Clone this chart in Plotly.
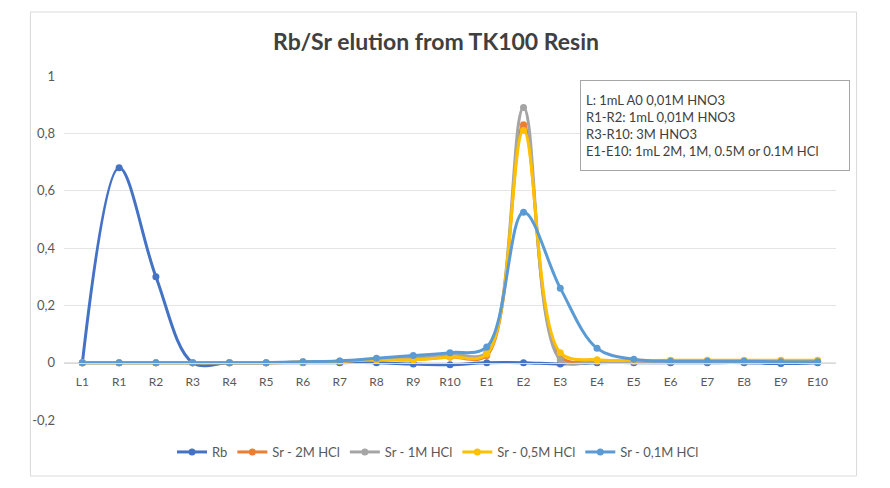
import plotly.graph_objects as go

categories = ["L1", "R1", "R2", "R3", "R4", "R5", "R6", "R7", "R8", "R9", "R10",
              "E1", "E2", "E3", "E4", "E5", "E6", "E7", "E8", "E9", "E10"]

rb = [0, 0.68, 0.30, 0, 0, 0, 0, 0, 0, -0.005, -0.007,
      0, 0, -0.005, 0, 0, 0, 0, 0, -0.003, 0]
sr_2m = [0, 0, 0, 0, 0, 0, 0.002, 0.005, 0.01, 0.01, 0.02,
         0.025, 0.83, 0.02, 0.005, 0.005, 0.005, 0.005, 0.005, 0.005, 0.005]
sr_1m = [0, 0, 0, 0, 0, 0, 0.002, 0.005, 0.01, 0.015, 0.03,
         0.035, 0.89, 0.01, 0.005, 0.003, 0.003, 0.003, 0.003, 0.003, 0.003]
sr_05m = [0, 0, 0, 0, 0, 0, 0.002, 0.005, 0.01, 0.01, 0.02,
          0.03, 0.81, 0.035, 0.01, 0.008, 0.008, 0.008, 0.008, 0.008, 0.008]
sr_01m = [0, 0, 0, 0, 0, 0, 0.003, 0.006, 0.015, 0.025, 0.035,
          0.055, 0.525, 0.26, 0.05, 0.012, 0.005, 0.005, 0.005, 0.003, 0.003]

series_names = ["Rb", "Sr - 2M HCl", "Sr - 1M HCl", "Sr - 0,5M HCl", "Sr - 0,1M HCl"]
series_values = [rb, sr_2m, sr_1m, sr_05m, sr_01m]
series_colors = ["#4472C4", "#ED7D31", "#A5A5A5", "#FFC000", "#5B9BD5"]

y_tickvals = [-0.2, 0, 0.2, 0.4, 0.6, 0.8, 1]
y_ticktext = ["-0,2", "0", "0,2", "0,4", "0,6", "0,8", "1"]

note_lines = ["L: 1mL A0 0,01M HNO3",
              "R1-R2: 1mL 0,01M HNO3",
              "R3-R10: 3M HNO3",
              "E1-E10: 1mL 2M, 1M, 0.5M or 0.1M HCl"]

fig = go.Figure()
for name, vals, col in zip(series_names, series_values, series_colors):
    fig.add_trace(go.Scatter(
        x=categories, y=vals, name=name, mode="lines+markers",
        line=dict(color=col, width=3, shape="spline", smoothing=1),
        marker=dict(color=col, size=7),
    ))

W, H = 890, 488
ml, mr, mt, mb = 63.6, 53.6, 76, 68
pw, ph = W - ml - mr, H - mt - mb

def px(x):
    return (x - ml) / pw

def py(y):
    return (H - mb - y) / ph

fig.update_layout(
    width=W, height=H,
    margin=dict(l=ml, r=mr, t=mt, b=mb, autoexpand=False),
    paper_bgcolor="white", plot_bgcolor="white",
    font=dict(family="Lato, Open Sans, sans-serif", color="#595959", size=12),
    title=dict(text="<b>Rb/Sr elution from TK100 Resin</b>", x=px(436), xanchor="center",
               xref="paper", y=1 - 42 / H, yanchor="middle",
               font=dict(size=23, color="#404040")),
    showlegend=True,
    legend=dict(orientation="h", x=px(438), xanchor="center", y=py(452), yanchor="middle",
                font=dict(size=13, color="#595959"), tracegroupgap=0),
    xaxis=dict(type="category", anchor="free", position=py(363),
               showline=True, linecolor="#D9D9D9", linewidth=1,
               showgrid=False, ticks="", ticklabelstandoff=8,
               tickfont=dict(size=12, color="#595959"),
               range=[-0.5, 20.5]),
    yaxis=dict(range=[-0.2, 1], tickvals=y_tickvals, ticktext=y_ticktext,
               showgrid=True, gridcolor="#E4E4E4", gridwidth=1,
               zeroline=False, showline=False, ticks="", ticklabelstandoff=8,
               tickfont=dict(size=13, color="#595959")),
    shapes=[dict(type="rect", xref="paper", yref="paper",
                 x0=px(30), x1=px(857), y0=py(476), y1=py(12),
                 line=dict(color="#D9D9D9", width=1), layer="below")],
    annotations=[dict(xref="paper", yref="paper", x=px(580), y=py(80),
                      xanchor="left", yanchor="top", align="left",
                      text="<br>".join(note_lines), showarrow=False,
                      width=258, height=79, bordercolor="#A6A6A6", borderwidth=1,
                      borderpad=5, bgcolor="white",
                      font=dict(size=13, color="#404040"))],
)

fig.write_html("out.html", config={"displayModeBar": False},
               post_script="document.body.style.margin='0';")
